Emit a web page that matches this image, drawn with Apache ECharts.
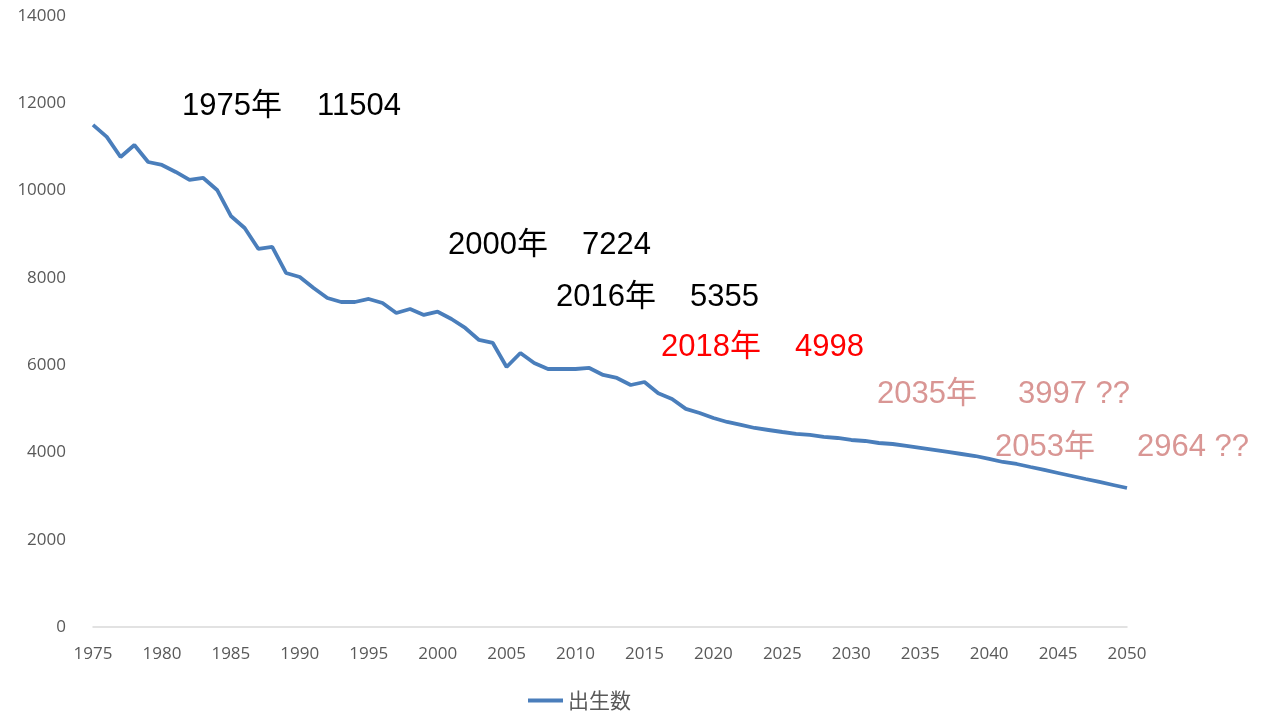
<!DOCTYPE html>
<html>
<head>
<meta charset="utf-8">
<script src="https://cdn.jsdelivr.net/npm/echarts@6/dist/echarts.min.js"></script>
<style>
  html, body { margin: 0; padding: 0; background: #fff; }
  #chart { width: 1275px; height: 716px; }
</style>
</head>
<body>
<div id="chart"></div>
<script>
// 年（1975〜2050）
const years = [];
for (let y = 1975; y <= 2050; y++) years.push(String(y));

// 出生数（千人）
const births = [
  11504, 11230, 10770, 11045, 10655, 10587, 10426, 10243, 10289, 10014,
  9418, 9143, 8662, 8708, 8112, 8020, 7768, 7539, 7447, 7447,
  7516, 7424, 7195, 7287, 7150, 7224, 7058, 6852, 6577, 6508,
  5958, 6279, 6049, 5912, 5912, 5912, 5935, 5775, 5706, 5545,
  5614, 5355, 5225, 4998, 4904, 4789, 4698, 4629, 4560, 4514,
  4468, 4423, 4400, 4354, 4331, 4285, 4262, 4216, 4193, 4148,
  4102, 4056, 4010, 3964, 3918, 3850, 3781, 3735, 3666, 3598,
  3529, 3460, 3391, 3323, 3254, 3185
];

// 注記テキスト
const noteYears = ["1975年", "2000年", "2016年", "2018年", "2035年", "2053年"];
const noteValues = ["11504", "7224", "5355", "4998", "3997 ??", "2964 ??"];
const noteColors = ["#000000", "#000000", "#000000", "#ff0000", "#d99694", "#d99694"];
const noteGap = [135, 134, 134, 134, 141, 142];
const notePos = [[182, 106], [448, 245], [556, 297], [661, 347], [877, 394], [995, 447]];

const noteFont = "Liberation Sans, Arial, 'Noto Sans CJK JP', sans-serif";

const chart = echarts.init(document.getElementById("chart"));
chart.setOption({
  animation: false,
  grid: { left: 93, right: 148, top: 16, bottom: 89, containLabel: false },
  legend: {
    left: 523,
    top: 685,
    itemWidth: 35,
    itemHeight: 4,
    icon: "rect",
    textStyle: { color: "#595959", fontSize: 21, fontFamily: "'Noto Sans CJK JP', sans-serif" },
    data: ["出生数"]
  },
  xAxis: {
    type: "category",
    data: years,
    boundaryGap: false,
    axisLine: { lineStyle: { color: "#d9d9d9", width: 1.5 } },
    axisTick: { show: false },
    axisLabel: { interval: 4, color: "#595959", fontSize: 17, fontFamily: "'Open Sans', sans-serif", margin: 19 }
  },
  yAxis: {
    type: "value",
    min: 0,
    max: 14000,
    interval: 2000,
    axisLine: { show: false },
    axisTick: { show: false },
    splitLine: { show: false },
    axisLabel: {
      color: "#595959", fontSize: 17, fontFamily: "'Open Sans', sans-serif", margin: 27,
      formatter: v => String(v)
    }
  },
  series: [{
    name: "出生数",
    type: "line",
    data: births,
    symbol: "none",
    lineStyle: { color: "#4a7ebb", width: 3.8 },
    itemStyle: { color: "#4a7ebb" }
  }],
  graphic: noteYears.map((yr, i) => ({
    type: "text",
    x: notePos[i][0],
    y: notePos[i][1],
    style: {
      text: "{a|" + yr + "}{b|" + noteValues[i] + "}",
      verticalAlign: "middle",
      rich: {
        a: { width: noteGap[i], fill: noteColors[i], fontSize: 31, fontFamily: noteFont },
        b: { fill: noteColors[i], fontSize: 31, fontFamily: noteFont }
      }
    }
  }))
});
</script>
</body>
</html>
